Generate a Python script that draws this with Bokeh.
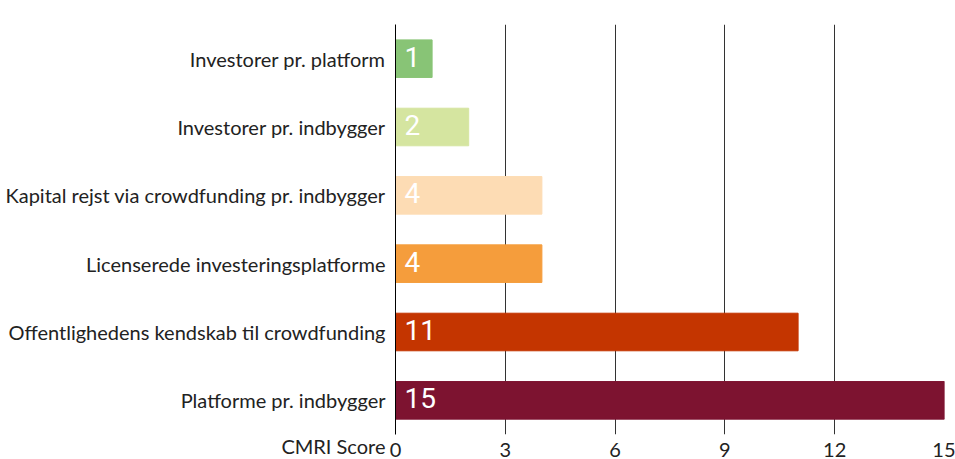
from bokeh.plotting import figure
from bokeh.models import FactorRange, Range1d, FixedTicker, ColumnDataSource, Label
from bokeh.core.properties import value
from bokeh.embed import file_html
from bokeh.resources import INLINE

categories = [
    "Investorer pr. platform",
    "Investorer pr. indbygger",
    "Kapital rejst via crowdfunding pr. indbygger",
    "Licenserede investeringsplatforme",
    "Offentlighedens kendskab til crowdfunding",
    "Platforme pr. indbygger",
]
scores = [1, 2, 4, 4, 11, 15]
bar_colors = ["#88c476", "#d5e5a0", "#fddcb4", "#f59d3c", "#c43500", "#7d1330"]
x_ticks = [0, 3, 6, 9, 12, 15]
x_axis_title = "CMRI Score"

src = ColumnDataSource(dict(
    cat=categories,
    score=scores,
    color=bar_colors,
    label=[str(s) for s in scores],
    zero=[0] * len(scores),
))

p = figure(
    width=955, height=459,
    y_range=FactorRange(factors=list(reversed(categories))),
    x_range=Range1d(0, 15),
    output_backend="svg", toolbar_location=None,
    min_border_left=395, min_border_right=11, min_border_top=13, min_border_bottom=0,
)
p.outline_line_color = None
p.background_fill_color = "white"
p.border_fill_color = "white"

p.hbar(y="cat", left=0, right="score", height=0.55, color="color", source=src)
p.text(x="zero", y="cat", text="label", source=src, x_offset=9, y_offset=-2,
       text_color="white", text_font=value("Roboto"), text_font_size="28px",
       text_align="left", text_baseline="middle")

p.xaxis.ticker = FixedTicker(ticks=x_ticks)
p.xaxis.axis_line_color = None
p.xaxis.major_tick_line_color = None
p.xaxis.major_tick_out = 0
p.xaxis.major_tick_in = 0
p.xaxis.minor_tick_line_color = None
p.xaxis.major_label_standoff = 8
p.xaxis.major_label_text_font = "Lato"
p.xaxis.major_label_text_font_size = "20px"
p.xaxis.major_label_text_color = "#222222"

p.yaxis.axis_line_color = "black"
p.yaxis.axis_line_width = 1
p.yaxis.major_tick_line_color = None
p.yaxis.major_tick_out = 0
p.yaxis.major_tick_in = 0
p.yaxis.minor_tick_line_color = None
p.yaxis.major_label_standoff = 10
p.yaxis.major_label_text_font = "Lato"
p.yaxis.major_label_text_font_size = "20px"
p.yaxis.major_label_text_color = "#222222"

p.ygrid.grid_line_color = None
p.xgrid.grid_line_color = "#333333"
p.xgrid.grid_line_width = 1

lab = Label(x=0, y=-0.175, x_units="data", y_units="data", text=x_axis_title,
            x_offset=-10, text_align="right", text_baseline="middle",
            text_font="Lato", text_font_size="20px", text_color="#222222")
p.add_layout(lab, "above")

open("out.html", "w").write(file_html(p, INLINE))
